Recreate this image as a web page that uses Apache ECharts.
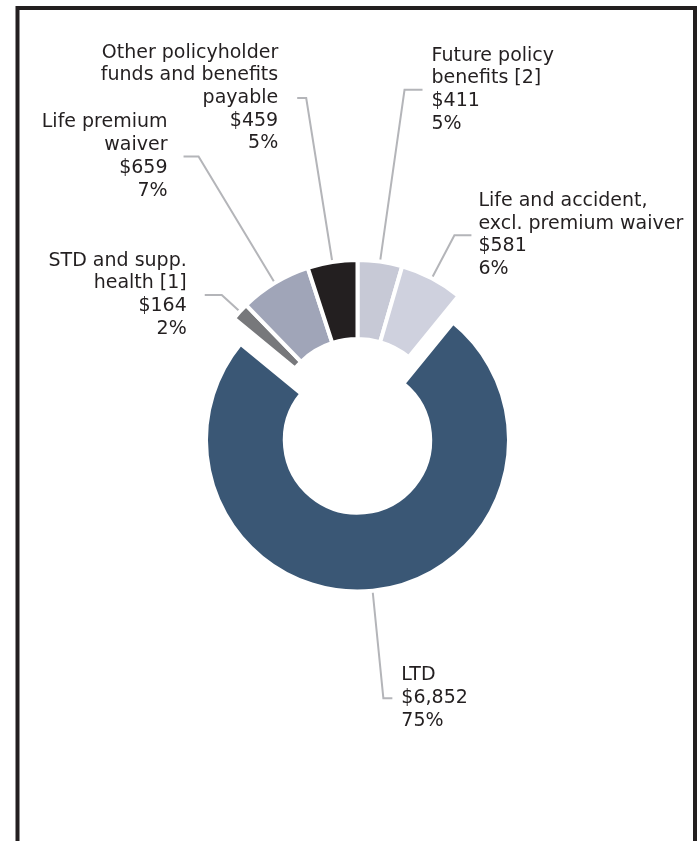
<!DOCTYPE html>
<html><head><meta charset="utf-8">
<script src="https://cdn.jsdelivr.net/npm/echarts@6/dist/echarts.min.js"></script>
<style>html,body{margin:0;padding:0;background:#fff}#chart{width:699px;height:841px}</style>
</head><body><div id="chart"></div>
<script>
// ---- data ----
const categories = [
  "Future policy\nbenefits [2]",
  "Life and accident,\nexcl. premium waiver",
  "LTD",
  "STD and supp.\nhealth [1]",
  "Life premium\nwaiver",
  "Other policyholder\nfunds and benefits\npayable"
];
const values = [411, 581, 6852, 164, 659, 459];

// ---- style / layout ----
const colors = ['#c7c9d6', '#cfd1de', '#3a5775', '#77787b', '#a0a5b8', '#231f20'];
const leaderLength  = [173.5, 48.7, 108, 24.6, 147.7, 166];
const leaderLength2 = [18, 17, 9, 17, 15, 9];
const labelGap      = [9, 7, 9, 18, 16, 19];

const bigIdx = values.indexOf(Math.max.apply(null, values));
const chart = echarts.init(document.getElementById('chart'), null, {renderer: 'canvas'});

function makeSeries(isInner) {
  return {
    type: 'pie',
    center: isInner ? [357.5, 440] : [357.5, 420],
    radius: isInner ? [72.7, 151.5] : [81, 160],
    startAngle: 90,
    clockwise: true,
    avoidLabelOverlap: false,
    percentPrecision: 0,
    silent: true,
    animation: false,
    labelLayout: {hideOverlap: false, moveOverlap: null},
    label: {
      position: 'outside',
      color: '#231f20',
      fontFamily: 'DejaVu Sans',
      fontSize: 19,
      lineHeight: 22.7,
      formatter: function (p) {
        return p.name + '\n$' + p.value.toLocaleString('en-US') + '\n' + p.percent + '%';
      }
    },
    labelLine: {
      lineStyle: {color: '#b4b5b9', width: 2}
    },
    data: values.map(function (v, i) {
      const shown = (i === bigIdx) === isInner;
      return {
        name: categories[i],
        value: v,
        itemStyle: shown
          ? {color: colors[i], borderColor: '#ffffff', borderWidth: 4}
          : {color: 'rgba(0,0,0,0)', borderWidth: 0},
        label: {show: shown, distanceToLabelLine: labelGap[i]},
        labelLine: {show: shown, length: leaderLength[i], length2: leaderLength2[i]}
      };
    })
  };
}

chart.setOption({
  backgroundColor: '#ffffff',
  animation: false,
  graphic: [{
    type: 'rect',
    silent: true,
    shape: {x: 17.5, y: 8, width: 677.5, height: 900},
    style: {fill: 'none', stroke: '#231f20', lineWidth: 4}
  }],
  series: [makeSeries(true), makeSeries(false)]
});
</script>
</body></html>
